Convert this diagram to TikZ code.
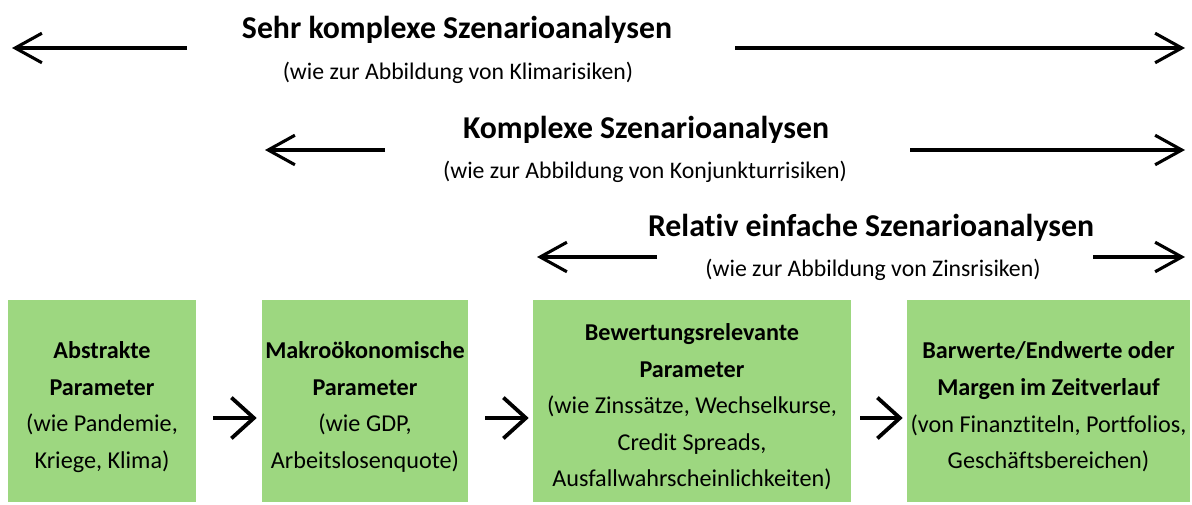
\documentclass[tikz,border=0pt]{standalone}
\usepackage{fontspec}
\setmainfont{Carlito}[Ligatures=NoCommon]
\usetikzlibrary{arrows.meta,calc}
\definecolor{boxgreen}{RGB}{157,215,128}

\begin{document}
\begin{tikzpicture}[x=0.025cm,y=-0.025cm,
  head/.style={font=\fontsize{22.6}{26}\selectfont\bfseries,inner sep=0pt},
  sub/.style={font=\fontsize{16.9}{20}\selectfont,inner sep=0pt},
  scopearrow/.style={line width=2.2pt,-{Straight Barb[length=19pt,width=21pt,line width=2.2pt]}},
  stage/.style={fill=boxgreen,minimum width=#1,minimum height=202*0.025cm,inner sep=0pt},
  stagetext/.style={font=\fontsize{17.2}{26}\selectfont,align=center,inner sep=0pt},
  flow/.style={line width=2.7pt,-{Straight Barb[length=16pt,width=29pt,line width=2.7pt]}}]
\useasboundingbox (0,0) rectangle (1192,505);

% scenario ranges
\node[head] (h1) at (457,30) {Sehr komplexe Szenarioanalysen};
\node[sub] (s1) at (458,73) {(wie zur Abbildung von Klimarisiken)};
\coordinate (l1a) at (187,48); \coordinate (l1b) at (12,48);
\coordinate (r1a) at (735,48); \coordinate (r1b) at (1185,48);
\draw[scopearrow] (l1a) -- (l1b);
\draw[scopearrow] (r1a) -- (r1b);

\node[head] (h2) at (646,130) {Komplexe Szenarioanalysen};
\node[sub] (s2) at (645,172) {(wie zur Abbildung von Konjunkturrisiken)};
\coordinate (l2a) at (385,150); \coordinate (l2b) at (265,150);
\coordinate (r2a) at (910,150); \coordinate (r2b) at (1185,150);
\draw[scopearrow] (l2a) -- (l2b);
\draw[scopearrow] (r2a) -- (r2b);

\node[head] (h3) at (871,228) {Relativ einfache Szenarioanalysen};
\node[sub] (s3) at (873,270) {(wie zur Abbildung von Zinsrisiken)};
\coordinate (l3a) at (657,257); \coordinate (l3b) at (537,257);
\coordinate (r3a) at (1093,257); \coordinate (r3b) at (1185,257);
\draw[scopearrow] (l3a) -- (l3b);
\draw[scopearrow] (r3a) -- (r3b);

% stages
\node[stage=188*0.025cm] (b1) at (102,401) {};
\node[stage=206*0.025cm] (b2) at (365,401) {};
\node[stage=318*0.025cm] (b3) at (692,401) {};
\node[stage=283*0.025cm] (b4) at (1048.5,401) {};

\node[stagetext] (t1) at (102,407) {\textbf{Abstrakte}\\\textbf{Parameter}\\(wie Pandemie,\\Kriege, Klima)};
\node[stagetext] (t2) at (365,407) {\textbf{Makroökonomische}\\\textbf{Parameter}\\(wie GDP,\\Arbeitslosenquote)};
\node[stagetext] (t3) at (692,407) {\textbf{Bewertungsrelevante}\\\textbf{Parameter}\\(wie Zinssätze, Wechselkurse,\\Credit Spreads,\\Ausfallwahrscheinlichkeiten)};
\node[stagetext] (t4) at (1048.5,407) {\textbf{Barwerte/Endwerte oder}\\\textbf{Margen im Zeitverlauf}\\(von Finanztiteln, Portfolios,\\Geschäftsbereichen)};

\draw[flow] ($(b1.east)+(17,17)$) -- ($(b2.west)+(-5,17)$);
\draw[flow] ($(b2.east)+(17,17)$) -- ($(b3.west)+(-4,17)$);
\draw[flow] ($(b3.east)+(9,17)$) -- ($(b4.west)+(-4,17)$);

\end{tikzpicture}
\end{document}
